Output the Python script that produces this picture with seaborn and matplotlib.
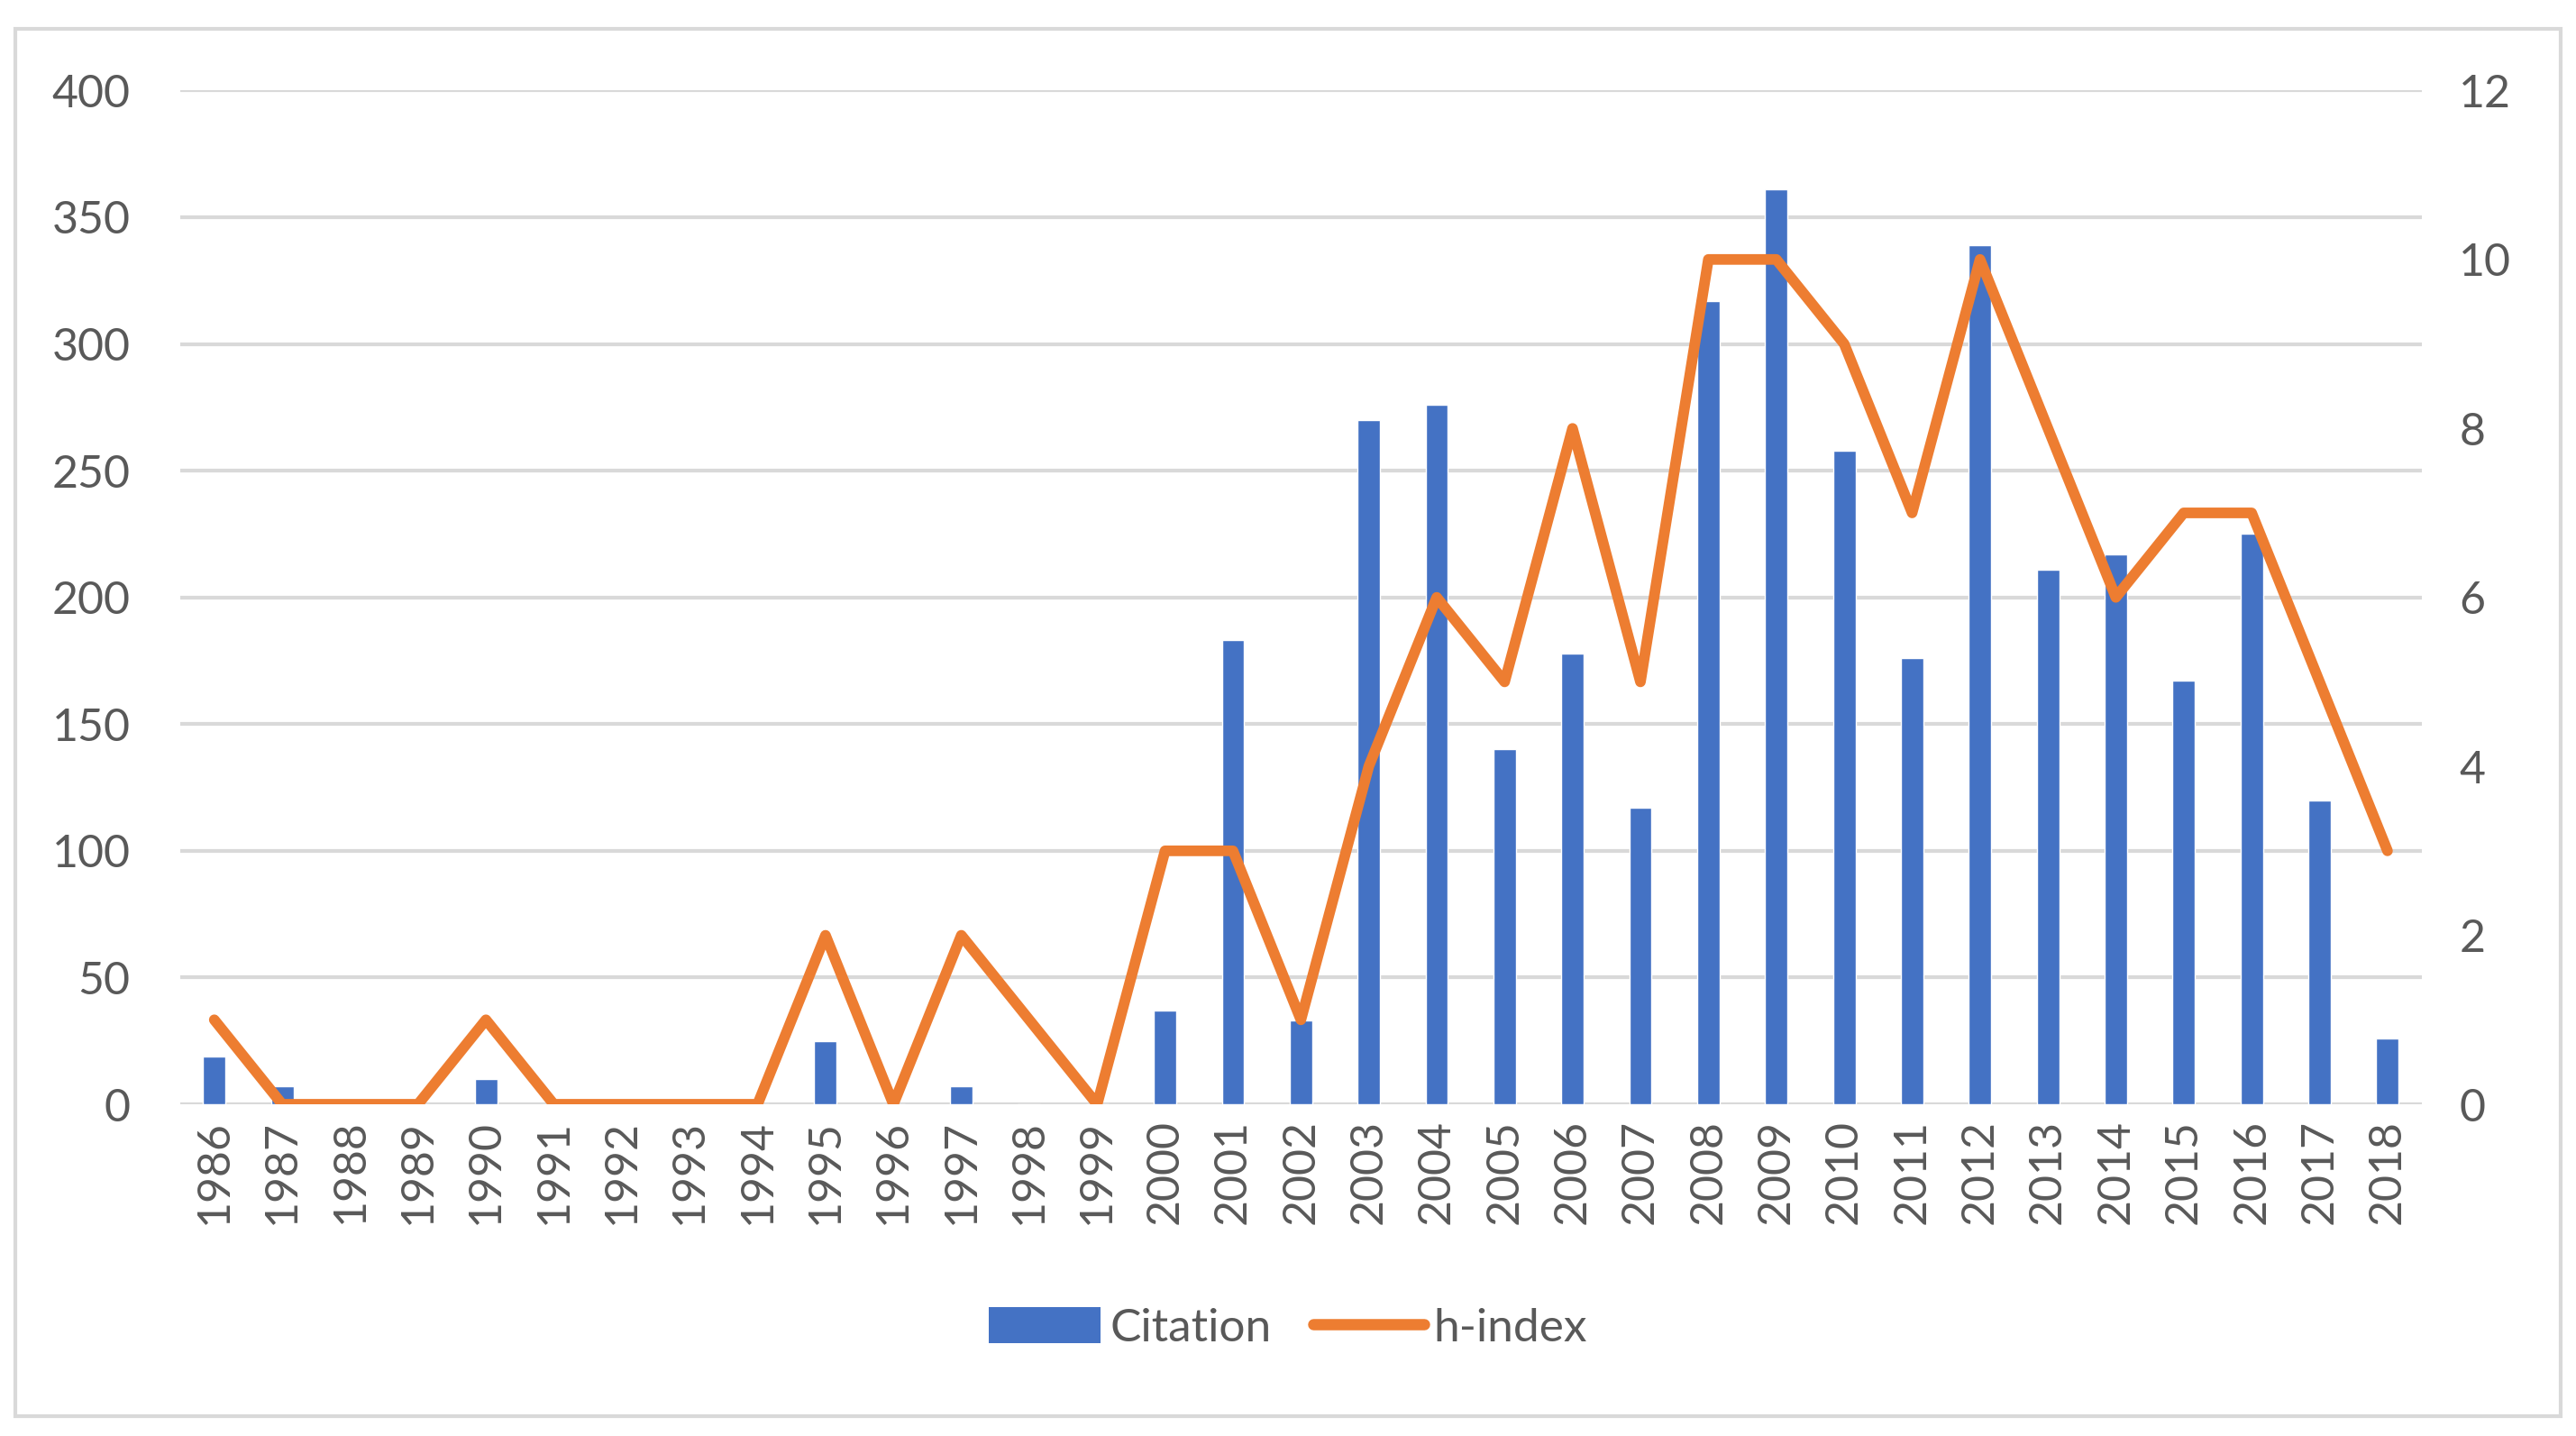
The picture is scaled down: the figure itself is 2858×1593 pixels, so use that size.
"""Citation and h-index per year: bars + line on twin axis."""
import numpy as np
import pandas as pd
import matplotlib
matplotlib.use("Agg")
import matplotlib.pyplot as plt
from matplotlib.patches import Rectangle, Patch
from matplotlib.lines import Line2D
import seaborn as sns

years = [str(y) for y in range(1986, 2019)]
citation = [19, 7, 0, 0, 10, 0, 0, 0, 0, 25, 0, 7, 0, 0, 37, 183, 33,
            270, 276, 140, 178, 117, 317, 361, 258, 176, 339, 211, 217, 167, 225, 120, 26]
hindex = [1, 0, 0, 0, 1, 0, 0, 0, 0, 2, 0, 2, 1, 0, 3, 3, 1,
          4, 6, 5, 8, 5, 10, 10, 9, 7, 10, 8, 6, 7, 7, 5, 3]

BLUE = "#4472C4"
ORANGE = "#ED7D31"
GRID = "#D9D9D9"
TXT = "#595959"

sns.set_style("white")
plt.rcParams["font.family"] = ["Lato", "DejaVu Sans"]

df = pd.DataFrame({"Year": years, "Citation": citation, "h-index": hindex})
df["pos"] = np.arange(len(df))

fig = plt.figure(figsize=(28.58, 15.93), dpi=100)
ax = fig.add_axes([0.070, 0.231, 0.870, 0.706])
sns.barplot(data=df, x="Year", y="Citation", color=BLUE, saturation=1,
            width=0.33, ax=ax)
ax.set_ylim(0, 400)
ax.set_yticks(range(0, 401, 50))
ax.set_xlim(-0.5, len(df) - 0.5)
ax.yaxis.grid(True, color=GRID, linewidth=3)
ax.set_axisbelow(True)
ax.set_xlabel(""); ax.set_ylabel("")
ax.tick_params(axis="x", rotation=90, labelsize=36, colors=TXT, length=0, pad=12)
ax.tick_params(axis="y", labelsize=36, colors=TXT, length=0, pad=40)
for s in ax.spines.values():
    s.set_visible(False)

ax2 = ax.twinx()
sns.lineplot(data=df, x="pos", y="h-index", color=ORANGE, linewidth=8.5, ax=ax2)
ax2.set_ylim(0, 12)
ax2.set_yticks(range(0, 13, 2))
ax2.set_xlim(-0.5, len(df) - 0.5)
ax2.set_ylabel("")
ax2.tick_params(axis="y", labelsize=36, colors=TXT, length=0, pad=30)
for s in ax2.spines.values():
    s.set_visible(False)

handles = [Patch(facecolor=BLUE, edgecolor="none"),
           Line2D([0], [0], color=ORANGE, linewidth=9)]
fig.legend(handles, ["Citation", "h-index"], loc="center", bbox_to_anchor=(0.500, 0.075),
           ncol=2, frameon=False, fontsize=37, handlelength=2.4, handleheight=0.8,
           handletextpad=0.2, columnspacing=0.9, labelcolor=TXT)

fig.patches.append(Rectangle((0.006, 0.014), 0.988, 0.966, transform=fig.transFigure,
                             fill=False, edgecolor=GRID, linewidth=3))

plt.savefig("out.png", dpi=100)
plt.close()
